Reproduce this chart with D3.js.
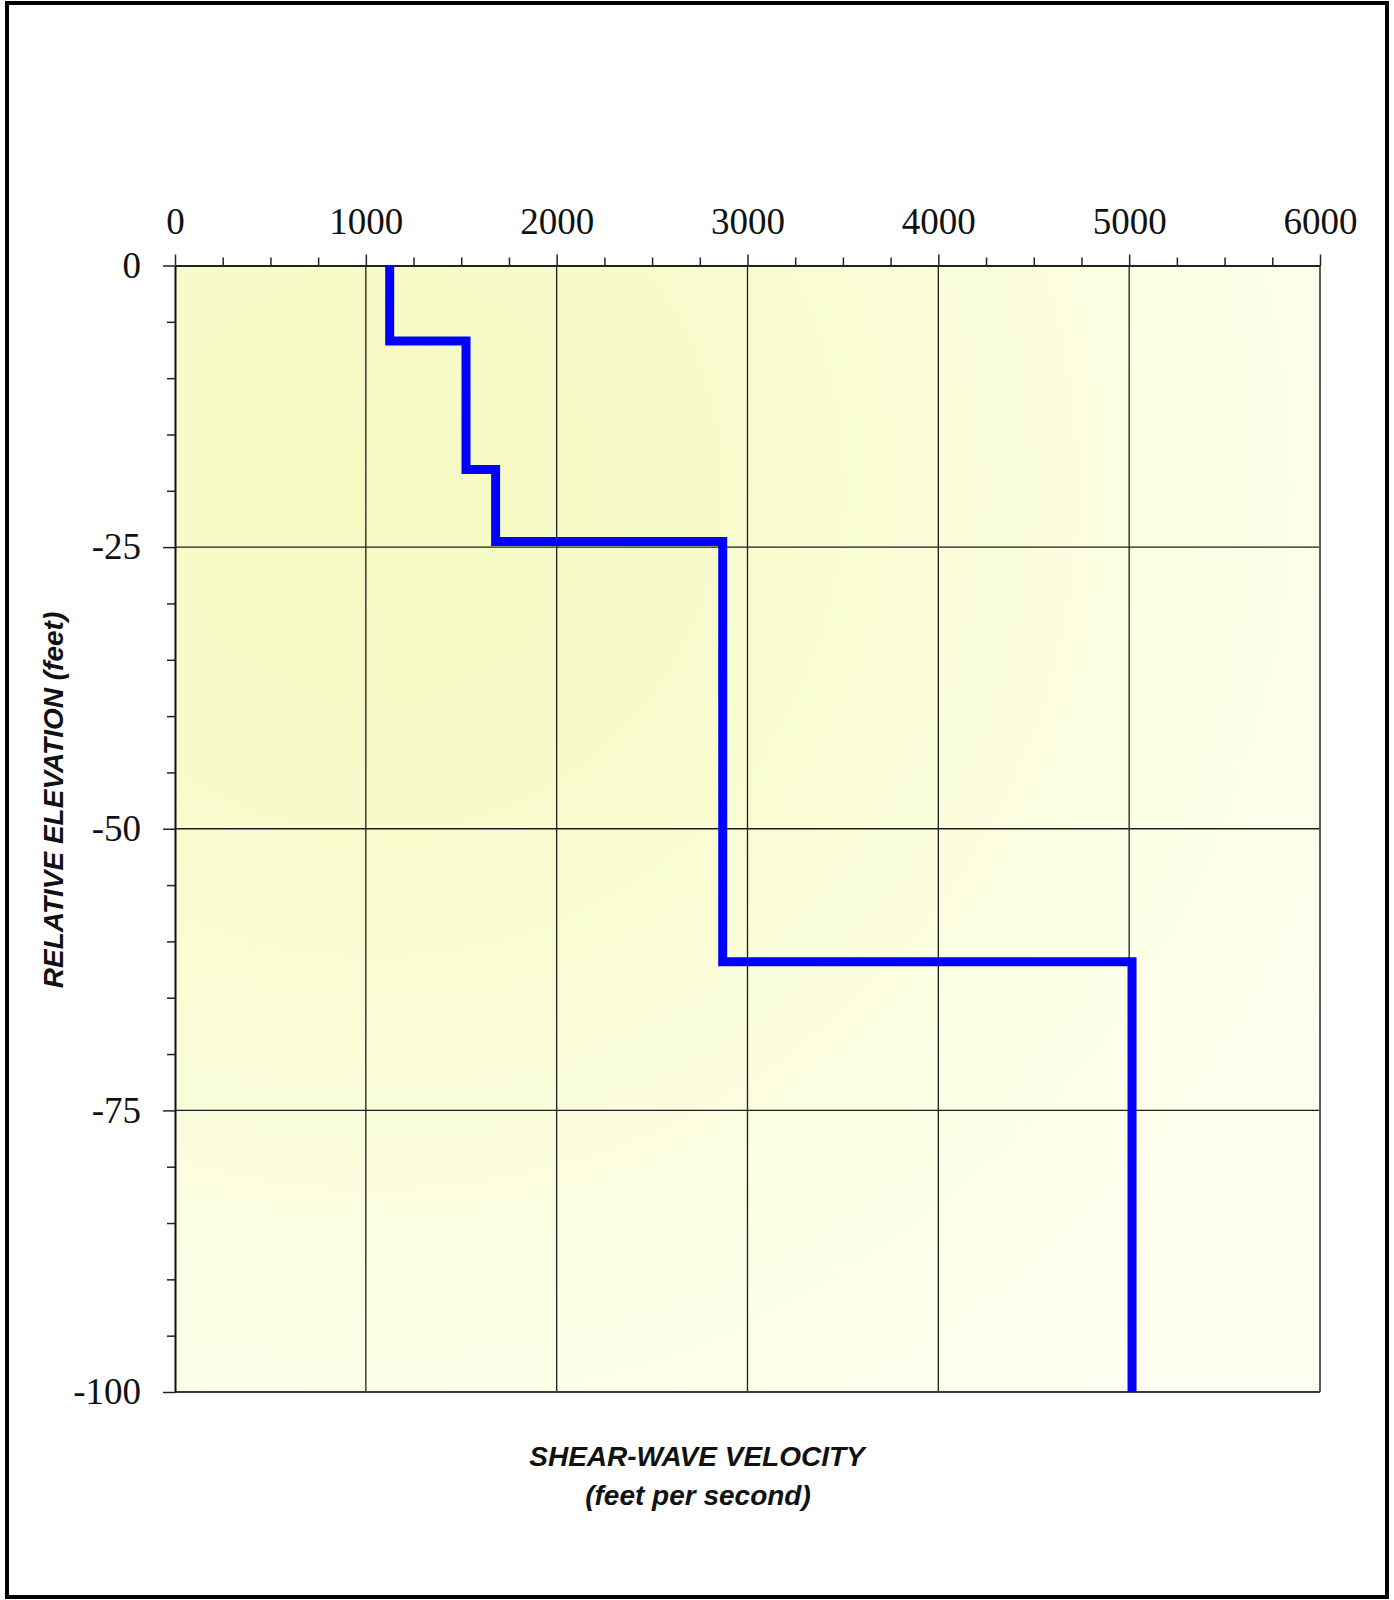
<!DOCTYPE html>
<html>
<head>
<meta charset="utf-8">
<script src="https://cdn.jsdelivr.net/npm/d3@7"></script>
<style>
  html, body { margin: 0; padding: 0; background: #ffffff; }
  svg { display: block; }
</style>
</head>
<body>
<script>
// Shear-wave velocity profile: one velocity per layer, between its top and bottom elevation
const velocities   = [1125, 1525, 1680, 2870, 5015];   // feet per second
const layerTops    = [0, -6.7, -18.1, -24.5, -61.8];   // feet
const layerBottoms = [-6.7, -18.1, -24.5, -61.8, -100];

const xMajorTicks = [0, 1000, 2000, 3000, 4000, 5000, 6000];
const yMajorTicks = [0, -25, -50, -75, -100];

const W = 1394, H = 1600;
const plot = { left: 175, right: 1320, top: 265.5, bottom: 1392 };

const svg = d3.select("body").append("svg")
  .attr("width", W).attr("height", H);

// outer frame
svg.append("rect")
  .attr("x", 7).attr("y", 3).attr("width", 1380).attr("height", 1594)
  .attr("fill", "#ffffff").attr("stroke", "#000").attr("stroke-width", 4);

const x = d3.scaleLinear().domain([0, 6000]).range([plot.left, plot.right]);
const y = d3.scaleLinear().domain([0, -100]).range([plot.top, plot.bottom]);

// pale yellow plot background, strongest toward the upper left
const defs = svg.append("defs");
const grad = defs.append("radialGradient")
  .attr("id", "bg").attr("gradientUnits", "userSpaceOnUse")
  .attr("cx", plot.left + 200).attr("cy", plot.top + 220).attr("r", 1150);
grad.append("stop").attr("offset", "0").attr("stop-color", "#f5fac2");
grad.append("stop").attr("offset", "0.4").attr("stop-color", "#f8fcd0");
grad.append("stop").attr("offset", "0.7").attr("stop-color", "#fcfee4");
grad.append("stop").attr("offset", "1").attr("stop-color", "#fefff0");

svg.append("rect")
  .attr("x", plot.left).attr("y", plot.top)
  .attr("width", plot.right - plot.left).attr("height", plot.bottom - plot.top)
  .attr("fill", "url(#bg)");

// grid
const grid = svg.append("g").attr("stroke", "#1e1e1e").attr("stroke-width", 1.3);
grid.selectAll("line.v").data(xMajorTicks.slice(1, -1)).join("line")
  .attr("x1", d => x(d)).attr("x2", d => x(d))
  .attr("y1", plot.top).attr("y2", plot.bottom);
grid.selectAll("line.h").data(yMajorTicks.slice(1, -1)).join("line")
  .attr("x1", plot.left).attr("x2", plot.right)
  .attr("y1", d => y(d)).attr("y2", d => y(d));

// right and bottom edges of the plot
svg.append("line").attr("x1", plot.right).attr("x2", plot.right)
  .attr("y1", plot.top).attr("y2", plot.bottom)
  .attr("stroke", "#5a5a5a").attr("stroke-width", 2);
svg.append("line").attr("x1", plot.left).attr("x2", plot.right)
  .attr("y1", plot.bottom).attr("y2", plot.bottom)
  .attr("stroke", "#3a3a3a").attr("stroke-width", 2);

// minor ticks
const xMinor = d3.range(0, 6001, 250).filter(v => v % 1000 !== 0);
const yMinor = d3.range(0, -101, -5).filter(v => v % 25 !== 0);

svg.append("g").attr("transform", `translate(0,${plot.top})`)
  .call(d3.axisTop(x).tickValues(xMinor).tickSize(8).tickFormat(""))
  .call(g => g.select(".domain").remove())
  .selectAll("line").attr("stroke", "#222").attr("stroke-width", 1.5);

svg.append("g").attr("transform", `translate(${plot.left},0)`)
  .call(d3.axisLeft(y).tickValues(yMinor).tickSize(8).tickFormat(""))
  .call(g => g.select(".domain").remove())
  .selectAll("line").attr("stroke", "#222").attr("stroke-width", 1.5);

// major axes; labels use a plain hyphen for negatives
const plainNumber = d => String(d);

const xAxis = svg.append("g").attr("transform", `translate(0,${plot.top})`)
  .call(d3.axisTop(x).tickValues(xMajorTicks).tickSize(11).tickSizeOuter(0).tickPadding(21)
    .tickFormat(plainNumber));
xAxis.select(".domain").attr("stroke", "#222").attr("stroke-width", 2);
xAxis.selectAll(".tick line").attr("stroke", "#222").attr("stroke-width", 1.5);
xAxis.selectAll(".tick text")
  .attr("font-family", "'Liberation Serif', 'Times New Roman', serif")
  .attr("font-size", 37).attr("fill", "#111");

const yAxis = svg.append("g").attr("transform", `translate(${plot.left},0)`)
  .call(d3.axisLeft(y).tickValues(yMajorTicks).tickSize(12).tickSizeOuter(0).tickPadding(22)
    .tickFormat(plainNumber));
yAxis.select(".domain").attr("stroke", "#111").attr("stroke-width", 2);
yAxis.selectAll(".tick line").attr("stroke", "#222").attr("stroke-width", 1.5);
yAxis.selectAll(".tick text")
  .attr("font-family", "'Liberation Serif', 'Times New Roman', serif")
  .attr("font-size", 37).attr("fill", "#111");

// velocity profile as a step line
const pts = [];
velocities.forEach((v, i) => {
  pts.push([v, layerTops[i]]);
  pts.push([v, layerBottoms[i]]);
});
const line = d3.line().x(d => x(d[0])).y(d => y(d[1]));
svg.append("path")
  .attr("d", line(pts))
  .attr("fill", "none")
  .attr("stroke", "#0000ff")
  .attr("stroke-width", 9)
  .attr("stroke-linejoin", "miter");

// axis titles
const titleFont = "'Liberation Sans', Arial, sans-serif";
svg.append("text")
  .attr("x", 697).attr("y", 1466)
  .attr("text-anchor", "middle")
  .attr("font-family", titleFont).attr("font-size", 28)
  .attr("font-weight", "bold").attr("font-style", "italic").attr("fill", "#111")
  .text("SHEAR-WAVE VELOCITY");
svg.append("text")
  .attr("x", 698).attr("y", 1505)
  .attr("text-anchor", "middle")
  .attr("font-family", titleFont).attr("font-size", 28)
  .attr("font-weight", "bold").attr("font-style", "italic").attr("fill", "#111")
  .text("(feet per second)");
svg.append("text")
  .attr("transform", "translate(63,800) rotate(-90)")
  .attr("text-anchor", "middle")
  .attr("font-family", titleFont).attr("font-size", 28)
  .attr("font-weight", "bold").attr("font-style", "italic").attr("fill", "#111")
  .text("RELATIVE ELEVATION (feet)");
</script>
</body>
</html>
